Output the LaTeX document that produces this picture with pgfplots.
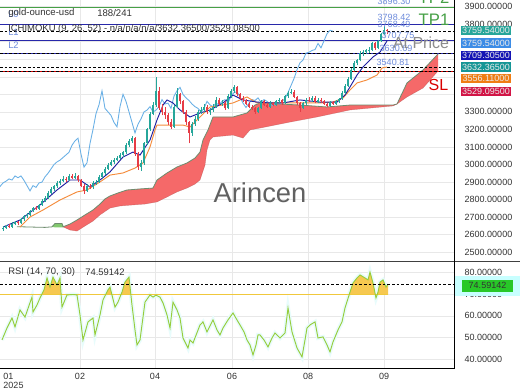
\documentclass[border=0pt]{standalone}
\usepackage{fontspec}
\setmainfont{Liberation Sans}
\usepackage{pgfplots}
\pgfplotsset{compat=1.18}
\usepackage{pgfplotstable}
\newcommand\fs[1]{\fontsize{#1}{#1}\selectfont}
\definecolor{labgray}{RGB}{51,51,51}
\definecolor{gridc}{RGB}{232,232,232}
\definecolor{upc}{RGB}{38,166,154}
\definecolor{dnc}{RGB}{230,60,70}
\definecolor{tenkan}{RGB}{30,30,160}
\definecolor{kijun}{RGB}{245,140,60}
\definecolor{chikou}{RGB}{105,176,230}
\definecolor{cloudred}{RGB}{245,105,105}
\definecolor{cloudline}{RGB}{110,140,110}
\definecolor{cloudgreen}{RGB}{130,200,110}
\definecolor{rsiline}{RGB}{150,205,60}
\definecolor{rsifill}{RGB}{246,200,80}
\definecolor{rsihalo}{RGB}{232,252,252}
\definecolor{obline}{RGB}{240,200,60}
\definecolor{navyl}{RGB}{40,40,170}
\definecolor{tpgreen}{RGB}{70,160,70}
\definecolor{lbl}{RGB}{110,140,220}
\definecolor{bxa}{RGB}{38,166,154}
\definecolor{bxb}{RGB}{60,140,230}
\definecolor{bxc}{RGB}{20,20,180}
\definecolor{bxd}{RGB}{20,150,150}
\definecolor{bxe}{RGB}{240,125,20}
\definecolor{bxf}{RGB}{210,20,70}
\definecolor{rsibox}{RGB}{40,200,40}
\definecolor{rsiboxhalo}{RGB}{200,255,255}

\pgfplotstableread{
x o h l c
3 2630 2652 2622 2638
6 2638 2658 2632 2650
9 2650 2660 2636 2645
12 2645 2672 2640 2662
15 2662 2680 2655 2670
18 2670 2678 2655 2665
21 2665 2695 2660 2688
24 2688 2712 2680 2705
27 2705 2725 2698 2715
30 2715 2742 2708 2735
33 2735 2760 2728 2752
36 2752 2762 2740 2748
39 2748 2778 2742 2770
42 2770 2805 2765 2795
45 2795 2820 2788 2810
48 2810 2850 2805 2840
51 2840 2872 2832 2860
54 2860 2885 2850 2875
57 2875 2905 2868 2895
60 2895 2915 2885 2905
63 2905 2935 2898 2918
66 2918 2930 2902 2912
69 2912 2948 2905 2935
72 2935 2945 2915 2925
75 2925 2950 2918 2935
78 2935 2940 2900 2910
81 2910 2918 2870 2880
84 2880 2890 2835 2850
87 2850 2890 2845 2880
90 2880 2888 2860 2870
93 2870 2905 2862 2895
96 2895 2912 2885 2900
99 2900 2940 2895 2930
102 2930 2960 2922 2950
105 2950 2985 2942 2975
108 2975 3010 2968 3000
111 3000 3025 2990 3015
114 3015 3035 3005 3025
117 3025 3050 3018 3040
120 3040 3065 3030 3055
123 3055 3080 3045 3070
126 3070 3120 3062 3110
129 3110 3145 3100 3135
132 3135 3165 3125 3150
135 3150 3158 3050 3060
138 3060 3070 2970 2985
141 2985 3025 2965 3010
144 3010 3130 3000 3120
147 3120 3210 3110 3200
150 3200 3300 3190 3290
153 3290 3355 3280 3340
156 3340 3500 3330 3420
159 3420 3440 3310 3320
162 3320 3345 3280 3300
165 3300 3330 3260 3280
168 3280 3295 3225 3240
171 3240 3260 3200 3215
174 3215 3340 3210 3330
177 3330 3435 3320 3400
180 3400 3410 3345 3360
183 3360 3370 3290 3300
186 3300 3310 3225 3240
189 3240 3250 3120 3180
192 3180 3240 3165 3230
195 3230 3275 3220 3260
198 3260 3310 3250 3300
201 3300 3330 3290 3310
204 3310 3345 3300 3330
207 3330 3340 3290 3300
210 3300 3320 3285 3310
213 3310 3345 3300 3330
216 3330 3385 3325 3370
219 3370 3380 3335 3345
222 3345 3365 3335 3350
225 3350 3360 3310 3320
228 3320 3400 3315 3390
231 3390 3430 3380 3420
234 3420 3452 3410 3440
237 3440 3448 3390 3400
240 3400 3410 3370 3380
243 3380 3392 3355 3365
246 3365 3372 3338 3345
249 3345 3355 3320 3330
252 3330 3340 3312 3320
255 3320 3328 3290 3300
258 3300 3330 3292 3320
261 3320 3370 3315 3360
264 3360 3368 3332 3340
267 3340 3348 3322 3330
270 3330 3360 3325 3350
273 3350 3358 3332 3340
276 3340 3368 3335 3360
279 3360 3380 3352 3370
282 3370 3376 3342 3350
285 3350 3398 3345 3390
288 3390 3420 3382 3410
291 3410 3432 3402 3415
294 3415 3422 3378 3385
297 3385 3392 3342 3350
300 3350 3358 3300 3325
303 3325 3358 3318 3350
306 3350 3380 3342 3370
309 3370 3385 3358 3365
312 3365 3392 3358 3380
315 3380 3388 3348 3355
318 3355 3378 3348 3370
321 3370 3378 3352 3360
324 3360 3366 3338 3345
327 3345 3352 3328 3335
330 3335 3362 3330 3355
333 3355 3360 3338 3345
336 3345 3368 3340 3360
339 3360 3382 3352 3375
342 3375 3418 3368 3410
345 3410 3458 3402 3450
348 3450 3498 3442 3490
351 3490 3548 3482 3540
354 3540 3590 3532 3580
357 3580 3602 3565 3595
360 3595 3645 3588 3635
363 3635 3655 3618 3640
366 3640 3660 3628 3650
369 3650 3668 3635 3655
372 3655 3700 3648 3690
375 3690 3698 3655 3665
378 3665 3712 3658 3705
381 3705 3752 3698 3745
384 3745 3790 3738 3765
387 3765 3775 3742 3759.54
}\candles

\pgfplotstableread{
x v
2 48.9
7 54.4
12 59.0
15 54.9
20 62.7
25 59.4
30 66.0
32 68.6
33 61.7
37 65.0
40 68.2
44 71.9
47 77.4
50 73.2
53 77.8
57 74.2
60 77.4
62 64.0
67 69.6
73 69.8
77 69.6
80 60.4
83 48.9
88 57.2
93 59.0
95 51.2
100 60.4
103 67.3
108 71.9
110 73.2
115 64.0
118 66.3
122 70.9
125 75.5
129 77.8
132 64.9
135 53.5
137 46.6
140 48.9
145 66.3
150 69.6
153 68.6
156 69.5
158 69.0
160 68.6
163 65.9
167 60.4
170 54.4
173 66.3
177 62.7
180 59.0
183 49.8
188 45.2
190 48.9
193 47.5
200 55.8
203 57.2
207 52.6
213 58.1
217 53.5
220 51.2
223 54.4
228 58.1
233 61.3
237 58.1
240 55.8
244 52.6
247 48.9
250 46.6
253 42.0
256 46.6
258 51.2
260 51.2
264 48.9
268 45.7
272 49.8
275 52.1
280 49.8
285 52.1
288 63.6
292 52.6
297 45.2
302 41.1
305 48.9
307 54.4
310 55.8
315 57.2
318 49.8
323 50.3
327 46.6
330 43.4
333 48.0
338 53.5
342 57.2
345 63.6
350 70.9
353 75.1
357 77.4
360 78.8
365 77.4
368 76.5
370 80.1
373 75.1
376 68.2
378 70.9
380 75.5
383 76.5
386 73.2
388 74.59
}\rsi

\begin{document}
\begin{tikzpicture}
\fill[white] (0,0) rectangle (390pt,292.5pt);

% ---------------- main price panel ----------------
\begin{axis}[
  at={(0pt,96.75pt)}, anchor=south west,
  width=340.5pt, height=195.75pt, scale only axis,
  xmin=0, xmax=454, ymin=2450.4, ymax=3937.6,
  axis line style={draw=none}, tick style={draw=none},
  xtick={80,155,232,308,384}, xticklabels={,,,,},
  ytick={2500,2600,...,3300,3800,3900},
  extra y ticks={3400,3500,3600,3700}, extra y tick labels={,,,},
  yticklabel pos=right,
  yticklabel style={font=\fs{6.75pt}, text=labgray, anchor=west, xshift=4.5pt,
    /pgf/number format/.cd, fixed, fixed zerofill, precision=5, 1000 sep={}, assume math mode=true},
  scaled y ticks=false,
  grid=major, major grid style={gridc, line width=0.4pt},
]
% cloud
\addplot[fill=cloudred, draw=none, forget plot] coordinates {
(63,2645)(70,2661)(77,2684)(85,2713)(93,2741)(100,2775)(105,2804)(110,2821)(118,2838)(127,2855)(140,2861)(153,2866)(157,2912)(167,2952)(177,2986)(187,3009)(195,3037)(200,3071)(203,3140)(208,3197)(213,3271)(233,3271)(247,3294)(255,3339)(260,3351)(280,3345)(300,3339)(327,3328)(350,3339)(393,3339)(397,3345)(407,3465)(423,3539)(438,3630)
(438,3533)(423,3436)(407,3385)(397,3345)(393,3334)(350,3311)(317,3271)(290,3242)(260,3208)(250,3197)(243,3151)(233,3168)(213,3157)(210,3140)(207,3083)(205,2997)(200,2912)(195,2889)(187,2866)(177,2844)(167,2815)(157,2787)(145,2775)(133,2770)(120,2764)(110,2752)(100,2713)(93,2678)(85,2650)(77,2621)(70,2627)
} -- cycle;
\addplot[fill=cloudgreen, draw=none, forget plot] coordinates {(52,2645)(55,2665)(62,2665)(64,2645)(62,2642)(55,2642)} -- cycle;
\addplot[cloudline, line width=0.6pt, forget plot] coordinates {
(17,2646)(30,2644)(45,2642)(52,2645)(55,2664)(62,2664)(63,2645)(70,2661)(77,2684)(85,2713)(93,2741)(100,2775)(105,2804)(110,2821)(118,2838)(127,2855)(140,2861)(153,2866)(157,2912)(167,2952)(177,2986)(187,3009)(195,3037)(200,3071)(203,3140)(208,3197)(213,3271)(233,3271)(247,3294)(255,3339)(260,3351)(280,3345)(300,3339)(327,3328)(350,3339)(393,3339)(397,3345)(407,3465)(423,3539)(438,3630)};
\addplot[cloudred!70!black, line width=0.3pt, opacity=0.5, forget plot] coordinates {
(63,2645)(70,2627)(77,2621)(85,2650)(93,2678)(100,2713)(110,2752)(120,2764)(133,2770)(145,2775)(157,2787)(167,2815)(177,2844)(187,2866)(195,2889)(200,2912)(205,2997)(207,3083)(210,3140)(213,3157)(233,3168)(243,3151)(250,3197)(260,3208)(290,3242)(317,3271)(350,3311)(393,3334)(397,3345)(407,3385)(423,3436)(438,3533)};

% level lines
\addplot[tpgreen, line width=0.8pt, forget plot] coordinates {(0,3896)(454,3896)};
\addplot[navyl, line width=0.8pt, forget plot] coordinates {(0,3798.42)(454,3798.42)};
\addplot[black, line width=0.7pt, dash pattern=on 2pt off 1.5pt, forget plot] coordinates {(0,3759.54)(454,3759.54)};
\addplot[navyl, line width=0.8pt, forget plot] coordinates {(0,3707.75)(454,3707.75)};
\addplot[navyl, line width=0.9pt, forget plot] coordinates {(0,3630.69)(454,3630.69)};
\addplot[black, line width=0.7pt, dash pattern=on 2pt off 1.5pt, forget plot] coordinates {(0,3630.69)(454,3630.69)};
\addplot[black, line width=0.7pt, dash pattern=on 2pt off 1.5pt, forget plot] coordinates {(0,3552)(454,3552)};
\addplot[red!85!black, line width=0.8pt, forget plot] coordinates {(0,3529.095)(454,3529.095)};
\addplot[black, line width=0.6pt, dash pattern=on 2pt off 1.5pt, forget plot] coordinates {(0,3529.095)(454,3529.095)};

% chikou (close shifted back 26 periods)
\addplot[chikou, line width=0.65pt, forget plot] table[x expr=\thisrow{x}-54, y=c] {\candles};
% kijun
\addplot[kijun, line width=0.7pt, forget plot] coordinates {
(20,2644)(30,2701)(43,2741)(60,2798)(77,2844)(87,2855)(100,2901)(110,2940)(123,2952)(135,2980)(143,3009)(150,3100)(155,3197)(157,3225)(183,3225)(190,3214)(200,3271)(210,3328)(222,3339)(233,3351)(240,3368)(247,3385)(252,3368)(257,3351)(280,3351)(300,3351)(320,3351)(333,3356)(343,3379)(350,3425)(357,3465)(367,3482)(377,3510)(382,3550)(387,3556)};
% tenkan
\addplot[tenkan, line width=0.7pt, forget plot] coordinates {
(3,2644)(20,2684)(40,2770)(57,2855)(70,2912)(80,2912)(90,2872)(100,2912)(110,2958)(123,3043)(133,3071)(140,3054)(150,3140)(157,3254)(163,3339)(167,3368)(173,3351)(180,3311)(190,3271)(200,3294)(210,3311)(223,3351)(233,3396)(243,3368)(257,3356)(270,3351)(283,3351)(300,3368)(320,3356)(337,3356)(345,3396)(350,3442)(357,3510)(363,3556)(373,3613)(380,3641)(387,3704)};

% candles: wicks
\addplot[draw=none, mark=none, forget plot,
  restrict expr to domain={\thisrow{c}-\thisrow{o}}{0:100000},
  error bars/.cd, y dir=plus, y explicit, error mark=none,
  error bar style={draw=upc, line width=0.45pt}]
  table[x=x, y=l, y error expr=\thisrow{h}-\thisrow{l}] {\candles};
\addplot[draw=none, mark=none, forget plot,
  restrict expr to domain={\thisrow{c}-\thisrow{o}}{-100000:-0.001},
  error bars/.cd, y dir=plus, y explicit, error mark=none,
  error bar style={draw=dnc, line width=0.45pt}]
  table[x=x, y=l, y error expr=\thisrow{h}-\thisrow{l}] {\candles};
% candles: bodies
\addplot[draw=none, mark=none, forget plot,
  restrict expr to domain={\thisrow{c}-\thisrow{o}}{0:100000},
  error bars/.cd, y dir=plus, y explicit, error mark=none,
  error bar style={draw=upc, line width=1.2pt}]
  table[x=x, y=o, y error expr=\thisrow{c}-\thisrow{o}] {\candles};
\addplot[draw=none, mark=none, forget plot,
  restrict expr to domain={\thisrow{c}-\thisrow{o}}{-100000:-0.001},
  error bars/.cd, y dir=plus, y explicit, error mark=none,
  error bar style={draw=dnc, line width=1.2pt}]
  table[x=x, y=c, y error expr=\thisrow{o}-\thisrow{c}] {\candles};
\end{axis}

% ---------------- RSI panel ----------------
\begin{axis}[
  at={(0pt,16.5pt)}, anchor=south west,
  width=340.5pt, height=80.25pt, scale only axis,
  xmin=0, xmax=454, ymin=36, ymax=85.2,
  axis line style={draw=none}, tick style={draw=none},
  xtick={80,155,232,308,384}, xticklabels={02,04,06,08,09},
  extra x ticks={13.5}, extra x tick labels={{01\\2025}},
  extra x tick style={grid=none},
  xticklabel style={font=\fs{6.75pt}, text=labgray, align=left},
  ytick={40,50,60,70,80},
  yticklabel pos=right,
  yticklabel style={font=\fs{6.75pt}, text=labgray, anchor=west, xshift=4.5pt,
    /pgf/number format/.cd, fixed, fixed zerofill, precision=5, 1000 sep={}, assume math mode=true},
  grid=major, major grid style={gridc, line width=0.4pt},
]
\addplot[rsihalo, line width=3pt, forget plot] table[x=x, y=v] {\rsi};
% overbought area: RSI area clipped to the band above 70
\begin{scope}
\clip (axis cs:0,70) rectangle (axis cs:454,90);
\addplot[fill=rsifill, draw=none, forget plot] table[x=x, y=v] {\rsi} \closedcycle;
\end{scope}
\addplot[obline, line width=0.7pt, forget plot] coordinates {(0,70)(388,70)};
\addplot[rsiline, line width=0.7pt, forget plot] table[x=x, y=v] {\rsi};
\addplot[black, line width=0.6pt, dash pattern=on 2pt off 1.5pt, forget plot] coordinates {(0,74.59142)(454,74.59142)};
\end{axis}

% ---------------- overlays in pixel coordinates ----------------
\begin{scope}[x=0.75pt, y=-0.75pt, yshift=292.5pt]
\draw[black!75, line width=0.6pt] (0,261) -- (520,261);
\draw[black, line width=0.7pt] (454,0) -- (454,261);
\draw[black, line width=0.7pt] (454,261) -- (454,368) -- (0,368);

% watermark
\node[anchor=base, text=black!62, font=\fs{20.5pt}] at (260,202) {Arincen};

% legend texts
\node[anchor=west, text=lbl, font=\fs{7pt}, inner sep=0] at (8,14) {L0};
\node[anchor=west, text=labgray, font=\fs{7.2pt}, inner sep=0] at (8,13) {gold-ounce-usd};
\node[anchor=west, text=labgray, font=\fs{7.2pt}, inner sep=0] at (97,13) {188/241};
\node[anchor=west, text=lbl, font=\fs{7pt}, inner sep=0] at (8,32) {L1};
\node[anchor=west, text=labgray, font=\fs{7.1pt}, inner sep=0] at (8,29) {ICHIMOKU (9, 26, 52) - n/a/n/a/n/a/3632.36500/3529.08500};
\node[anchor=west, text=lbl, font=\fs{7pt}, inner sep=0] at (8,45) {L2};
\node[anchor=west, text=labgray, font=\fs{7.1pt}, inner sep=0] at (8,272) {RSI (14, 70, 30)};
\node[anchor=west, text=labgray, font=\fs{7.1pt}, inner sep=0] at (85,272) {74.59142};

% level labels
\node[text=lbl, font=\fs{6.75pt}, inner sep=0] at (394,1) {3896.30};
\node[text=lbl, font=\fs{6.75pt}, inner sep=0] at (394,17) {3798.42};
\node[text=lbl, font=\fs{6.75pt}, inner sep=0] at (394,24) {3768.49};
\node[text=lbl, font=\fs{6.75pt}, inner sep=0] at (398,35) {3707.75};
\node[text=lbl, font=\fs{6.75pt}, inner sep=0] at (396,48) {3630.69};
\node[text=lbl, font=\fs{6.75pt}, inner sep=0] at (393,62) {3540.81};
\node[anchor=base, text=tpgreen, font=\fs{12.5pt}, inner sep=0] at (434,4) {TP2};
\node[anchor=base, text=tpgreen, font=\fs{12.5pt}, inner sep=0] at (434,26) {TP1};
\node[anchor=base, text=black!45, font=\fs{12pt}, inner sep=0] at (421,49) {At Price};
\node[anchor=base, text=red!85!black, font=\fs{12pt}, inner sep=0] at (438.5,90) {SL};

% value boxes
\foreach \yy/\cc/\tt in {30.5/bxa/3759.54000, 43/bxb/3759.54000, 55.5/bxc/3709.30500, 67/bxd/3632.36500, 78.5/bxe/3556.11000, 91.5/bxf/3529.09500}{
  \node[fill=\cc, text=white!92!black, font=\fs{6.75pt}, minimum width=37.8pt, minimum height=7.4pt, inner sep=0] at (486,\yy) {\tt};
}
\fill[rsiboxhalo] (455,276) rectangle (520,296);
\node[fill=rsibox, text=labgray, font=\fs{6.75pt}, minimum width=38pt, minimum height=9pt, inner sep=0] at (487.5,285.5) {74.59142};
\end{scope}

\pgfresetboundingbox
\path[use as bounding box] (0,0) rectangle (390pt,292.5pt);
\end{tikzpicture}
\end{document}
